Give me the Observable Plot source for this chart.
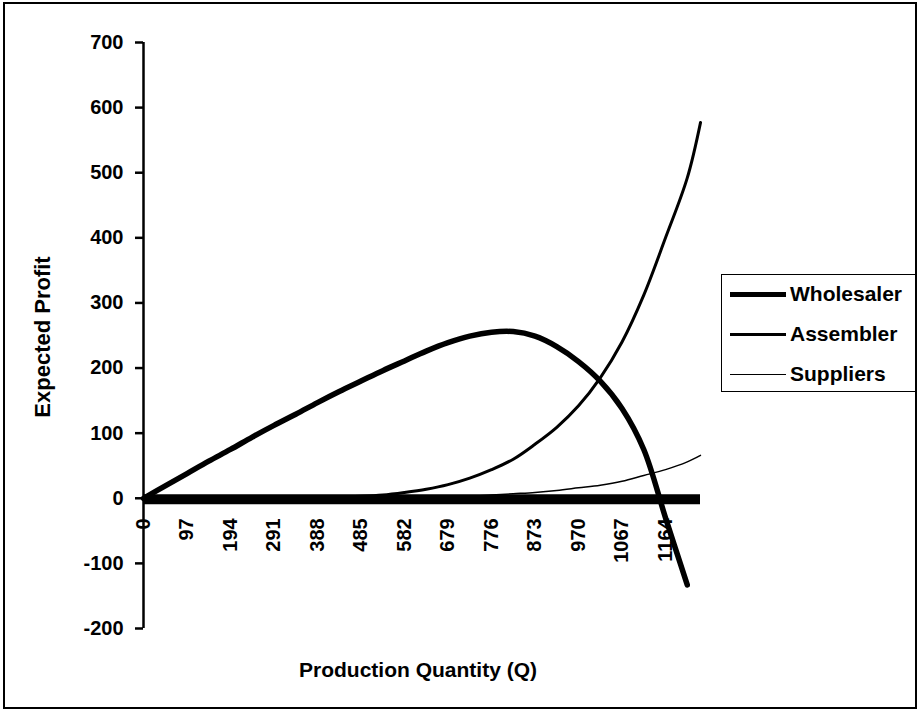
<!DOCTYPE html>
<html>
<head>
<meta charset="utf-8">
<script src="https://cdn.jsdelivr.net/npm/d3@7"></script>
<script src="https://cdn.jsdelivr.net/npm/@observablehq/plot@0.6"></script>
<style>
  body { margin: 0; background: #fff; }
  #wrap { position: relative; width: 920px; height: 712px; font-family: "Liberation Sans", Arial, sans-serif; font-weight: bold; color: #000; overflow: hidden; }
  #frame { position: absolute; left: 3px; top: 2px; width: 914px; height: 707px; border: 2px solid #000; box-sizing: border-box; pointer-events: none; }
  #chart { position: absolute; left: 0; top: 0; }
  #ytitle { position: absolute; left: 43px; top: 337px; transform: translate(-50%, -50%) rotate(-90deg); font-size: 22px; white-space: nowrap; }
  #xtitle { position: absolute; left: 418px; top: 670px; transform: translate(-50%, -50%); font-size: 21px; white-space: nowrap; }
  #legend { position: absolute; left: 721px; top: 274px; width: 196px; height: 118px; border: 1.5px solid #000; border-right: none; box-sizing: border-box; }
  .row { position: absolute; left: 8px; display: flex; align-items: center; font-size: 21px; height: 30px; transform: translateY(-50%); }
  .sw { width: 56px; height: 0; border-top-style: solid; border-top-color: #000; margin-right: 4px; }
</style>
</head>
<body>
<div id="wrap">
  <div id="chart"></div>
  <div id="ytitle">Expected Profit</div>
  <div id="xtitle">Production Quantity (Q)</div>
  <div id="legend"></div>
  <div id="frame"></div>
</div>
<script>
// Production quantity (Q) sample points
const q = [0, 48.5, 97, 145.5, 194, 242.5, 291, 339.5, 388, 436.5, 485, 533.5, 582, 630.5, 679, 727.5, 776, 824.5, 873, 921.5, 970, 1018.5, 1067, 1115.5, 1164, 1212.5, 1242];
// Expected profit per party
const wholesaler = [0, 19, 38, 57, 75, 94, 112, 129, 147, 164, 180, 196, 211, 226, 239, 249, 255, 256, 249, 233, 210, 180, 138, 75, -30, -133, null];
const assembler  = [0, 0, 0, 0, 0, 0, 0, 0, 1, 2, 3, 5, 9, 14, 21, 31, 44, 60, 83, 109, 142, 185, 240, 312, 400, 492, 577];
const suppliers  = [0, 0, 0, 0, 0, 0, 0, 0, 0, 0, 0, 0, 0, 1, 2, 3, 5, 7, 9, 12, 16, 20, 26, 35, 44, 56, 66];
const seriesNames = ["Wholesaler", "Assembler", "Suppliers"];
const xTicks = [0, 97, 194, 291, 388, 485, 582, 679, 776, 873, 970, 1067, 1164];
const yTicks = [-200, -100, 0, 100, 200, 300, 400, 500, 600, 700];

const widths = {Wholesaler: 5.5, Assembler: 3, Suppliers: 1.5};
const valuesBy = {Wholesaler: wholesaler, Assembler: assembler, Suppliers: suppliers};
const rows = [];
for (const s of seriesNames) {
  q.forEach((v, i) => { if (valuesBy[s][i] !== null) rows.push({series: s, q: v, profit: valuesBy[s][i]}); });
}

const chart = Plot.plot({
  width: 920,
  height: 712,
  marginLeft: 143,
  marginRight: 220,
  marginTop: 42,
  marginBottom: 84,
  style: {fontFamily: "Liberation Sans, Arial, sans-serif", fontWeight: "bold", background: "transparent", overflow: "visible"},
  x: {domain: [0, 1242], axis: null},
  y: {domain: [-200, 700], axis: null},
  marks: [
    Plot.axisY({ticks: yTicks, tickSize: 8, tickPadding: 12, fontSize: 20, strokeWidth: 2.5, label: null, tickFormat: d => String(d)}),
    Plot.ruleX([0], {y1: -200, y2: 700, strokeWidth: 2.5}),
    Plot.ruleY([0], {x1: 0, x2: 1242, strokeWidth: 10, dy: 1}),
    Plot.text(xTicks, {x: d => d, y: 0, text: d => String(d), rotate: -90, textAnchor: "end", dy: 20, fontSize: 20}),
    ...seriesNames.map(s => Plot.line(rows.filter(r => r.series === s), {x: "q", y: "profit", stroke: "#000", strokeWidth: widths[s], curve: "catmull-rom"}))
  ]
});
document.getElementById("chart").appendChild(chart);

const legend = document.getElementById("legend");
seriesNames.forEach((s, i) => {
  const row = document.createElement("div");
  row.className = "row";
  row.style.top = (19 + i * 40) + "px";
  const sw = document.createElement("div");
  sw.className = "sw";
  sw.style.borderTopWidth = widths[s] + "px";
  row.appendChild(sw);
  row.appendChild(document.createTextNode(s));
  legend.appendChild(row);
});
</script>
</body>
</html>
